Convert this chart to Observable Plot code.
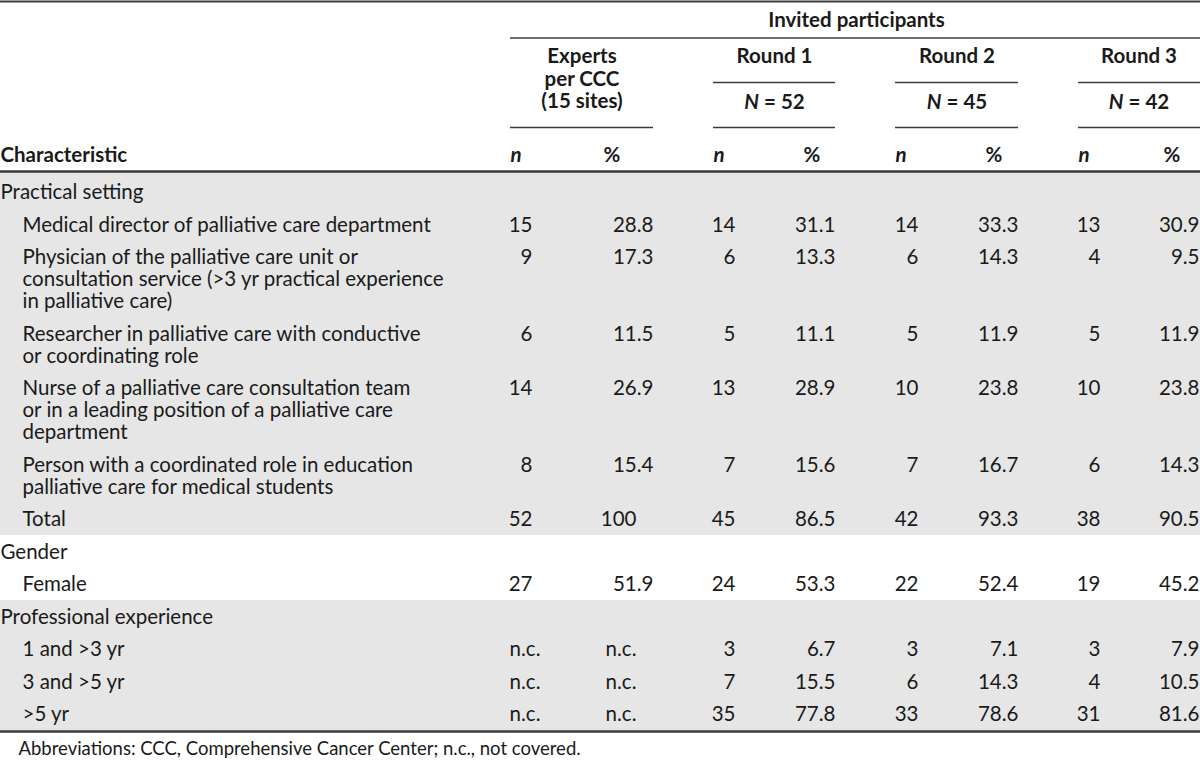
<!DOCTYPE html>
<html>
<head>
<meta charset="utf-8">
<script src="https://cdn.jsdelivr.net/npm/d3@7"></script>
<script src="https://cdn.jsdelivr.net/npm/@observablehq/plot@0.6"></script>
<style>
  html, body { margin: 0; padding: 0; background: #fff; }
  #chart svg { display: block; }
</style>
</head>
<body>
<div id="chart"></div>
<script>
// ---------- data ----------
const groups = ["Practical setting", "Gender", "Professional experience"];
const rowGroup = [0, 0, 0, 0, 0, 0, 1, 2, 2, 2];
const rowLabels = [
  ["Medical director of palliative care department"],
  ["Physician of the palliative care unit or", "consultation service (>3 yr practical experience", "in palliative care)"],
  ["Researcher in palliative care with conductive", "or coordinating role"],
  ["Nurse of a palliative care consultation team", "or in a leading position of a palliative care", "department"],
  ["Person with a coordinated role in education", "palliative care for medical students"],
  ["Total"],
  ["Female"],
  ["1 and >3 yr"],
  ["3 and >5 yr"],
  [">5 yr"]
];
const columnGroups = ["Experts per CCC (15 sites)", "Round 1", "Round 2", "Round 3"];
const roundN = [null, 52, 45, 42];
const expertsN   = ["15", "9", "6", "14", "8", "52", "27", "n.c.", "n.c.", "n.c."];
const expertsPct = ["28.8", "17.3", "11.5", "26.9", "15.4", "100", "51.9", "n.c.", "n.c.", "n.c."];
const round1N   = [14, 6, 5, 13, 7, 45, 24, 3, 7, 35];
const round1Pct = [31.1, 13.3, 11.1, 28.9, 15.6, 86.5, 53.3, 6.7, 15.5, 77.8];
const round2N   = [14, 6, 5, 10, 7, 42, 22, 3, 6, 33];
const round2Pct = [33.3, 14.3, 11.9, 23.8, 16.7, 93.3, 52.4, 7.1, 14.3, 78.6];
const round3N   = [13, 4, 5, 10, 6, 38, 19, 3, 4, 31];
const round3Pct = [30.9, 9.5, 11.9, 23.8, 14.3, 90.5, 45.2, 7.9, 10.5, 81.6];
const footnote = "Abbreviations: CCC, Comprehensive Cancer Center; n.c., not covered.";

// ---------- layout ----------
const W = 1200, H = 760;
const FONT = "Lato";
const FS = 20.5;
const INK = "#1a1a1a";
const RULE = "#3c3c3c";
const GRAY = "#e6e6e6";
// column geometry (left of n, right of n, right of %)
const colNLeft  = [510, 713, 895, 1078];
const colNRight = [532, 735, 918, 1100];
const colPLeft  = [603, 803, 985, 1163];
const colPRight = [653, 835, 1018, 1199];

const ROW = 32.5, LINE = 22;
const rows = [];       // text lines for labels
const cells = [];      // numbers
const bands = [];
let y = 192;
let bandTop = 172;
const nCols = [expertsN, round1N, round2N, round3N];
const pCols = [expertsPct, round1Pct, round2Pct, round3Pct];
groups.forEach((g, gi) => {
  rows.push({x: 0, y, text: g});
  y += ROW;
  let lastY = y;
  rowLabels.forEach((lines, ri) => {
    if (rowGroup[ri] !== gi) return;
    lines.forEach((t, li) => rows.push({x: 22, y: y + li * LINE, text: t}));
    nCols.forEach((col, ci) => {
      const v = String(col[ri]);
      if (v === "n.c.") cells.push({x: colNRight[ci] + 8, y, text: v});
      else cells.push({x: colNRight[ci], y, text: v});
    });
    pCols.forEach((col, ci) => {
      const raw = col[ri];
      const isStr = typeof raw === "string";
      const v = isStr ? raw : raw.toFixed(1);
      const dec = v.includes(".") && v !== "n.c.";
      cells.push({x: dec ? colPRight[ci] : colPRight[ci] - 17, y, text: v});
    });
    lastY = y;
    y += ROW + LINE * (lines.length - 1);
  });
  const bandBottom = gi === groups.length - 1 ? 731 : lastY + 16;
  bands.push({y1: bandTop, y2: bandBottom, fill: gi === 1 ? "#ffffff" : GRAY});
  bandTop = bandBottom;
});
const bottomRule = bandTop;

// header pieces
const hdrBold = [];
hdrBold.push({x: 856, y: 20, text: "Invited participants"});
["Experts", "per CCC", "(15 sites)"].forEach((t, i) => hdrBold.push({x: (colNLeft[0] + colPRight[0]) / 2, y: 56 + i * 22.5, text: t}));
columnGroups.slice(1).forEach((t, i) => hdrBold.push({x: (colNLeft[i + 1] + colPRight[i + 1]) / 2, y: 56, text: t}));
const nHdr = roundN.slice(1).map((n, i) => ({x: (colNLeft[i + 1] + colPRight[i + 1]) / 2, y: 102, text: "N = " + n}));
const subHdrN = colNLeft.map(x => ({x, y: 155, text: "n"}));
const subHdrP = colPLeft.map(x => ({x, y: 155, text: "%"}));

const rules = [
  {x1: 0, x2: W, y: 1, w: 2},
  {x1: 510, x2: W, y: 37.5, w: 1.5},
  ...[1, 2, 3].map(i => ({x1: colNLeft[i], x2: colPRight[i] + (i === 3 ? 1 : 0), y: 82, w: 1.5})),
  ...[0, 1, 2, 3].map(i => ({x1: colNLeft[i], x2: colPRight[i] + (i === 3 ? 1 : 0), y: 127, w: 1.5})),
  {x1: 0, x2: W, y: 171, w: 2.5},
  {x1: 0, x2: W, y: bottomRule, w: 2.5}
];

const plot = Plot.plot({
  width: W, height: H,
  margin: 0,
  x: {domain: [0, W], range: [0, W], axis: null},
  y: {domain: [0, H], range: [0, H], axis: null},
  style: {fontFamily: FONT, fontSize: FS + "px", color: INK, background: "#fff"},
  marks: [
    Plot.rect(bands, {x1: 0, x2: W, y1: "y1", y2: "y2", fill: "fill"}),
    Plot.ruleY(rules, {y: "y", x1: "x1", x2: "x2", stroke: RULE, strokeWidth: "w"}),
    Plot.text(hdrBold, {x: "x", y: "y", text: "text", fontWeight: "bold", fontSize: FS, fill: INK}),
    Plot.text(nHdr, {x: "x", y: "y", text: "text", fontWeight: "bold", fontSize: FS, fill: INK}),
    Plot.text([{x: 0, y: 155, text: "Characteristic"}], {x: "x", y: "y", text: "text", textAnchor: "start", fontWeight: "bold", fontSize: FS, fill: INK}),
    Plot.text(subHdrN, {x: "x", y: "y", text: "text", textAnchor: "start", fontWeight: "bold", fontStyle: "italic", fontSize: FS, fill: INK}),
    Plot.text(subHdrP, {x: "x", y: "y", text: "text", textAnchor: "start", fontWeight: "bold", fontSize: FS, fill: INK}),
    Plot.text(rows, {x: "x", y: "y", text: "text", textAnchor: "start", fontSize: FS, fill: INK}),
    Plot.text(cells, {x: "x", y: "y", text: "text", textAnchor: "end", fontSize: FS, fill: INK}),
    Plot.text([{x: 18, y: 749, text: footnote}], {x: "x", y: "y", text: "text", textAnchor: "start", fontSize: 18.5, fill: INK})
  ]
});

// italic N in "N = xx"
d3.select(plot).selectAll("text").each(function() {
  const t = this.textContent;
  if (/^N = \d+$/.test(t)) {
    const el = d3.select(this);
    el.text(null);
    el.append("tspan").attr("font-style", "italic").text("N");
    el.append("tspan").text(t.slice(1));
  }
});

document.getElementById("chart").appendChild(plot);
</script>
</body>
</html>
